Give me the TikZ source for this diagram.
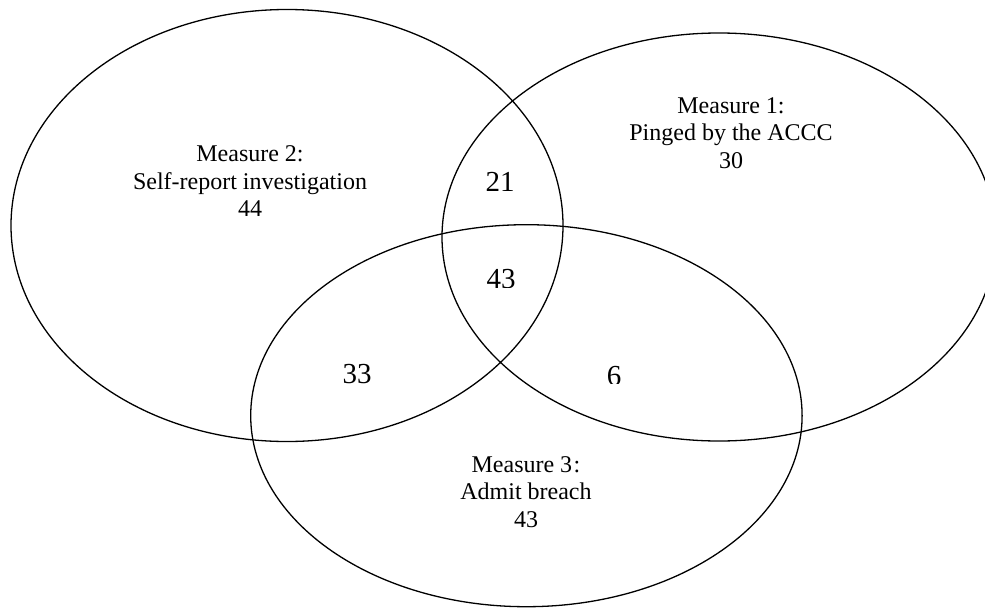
\documentclass[tikz,border=0pt]{standalone}
\usepackage{fontspec}
\setmainfont{Liberation Serif}
\begin{document}
\begin{tikzpicture}[x=1pt,y=-1pt,
  setline/.style={line width=1.3pt},
  setlabel/.style={align=center,inner sep=0pt,font=\fontsize{24}{27.5}\selectfont},
  countlabel/.style={inner sep=0pt,font=\fontsize{29}{33}\selectfont}]
\useasboundingbox (0,0) rectangle (985,608);
\clip (0,0) rectangle (985,608);
% sets
\draw[setline] (287,225.5) ellipse [x radius=276, y radius=216];
\draw[setline] (719,237) ellipse [x radius=277, y radius=204];
\draw[setline] (526.4,415.7) ellipse [x radius=275.7, y radius=191];
% set labels
\node[setlabel] (m2) at (250,181.5) {Measure 2:\\Self-report investigation\\44};
\node[setlabel] (m1) at (731,133) {Measure 1:\\Pinged by the ACCC\\30};
\node[setlabel] (m3) at (526,492) {Measure 3\kern1.5pt:\\Admit breach\\43};
% intersection counts
\node[countlabel] (c21) at (500,182) {21};
\node[countlabel] (c33) at (357,374.5) {33};
\begin{scope}
  \clip (440,250) rectangle (560,287.3);
  \node[countlabel] (c43) at (501,279) {43};
\end{scope}
\begin{scope}
  \clip (580,350) rectangle (650,383.3);
  \node[countlabel] (c6) at (614,376.5) {6};
\end{scope}
\end{tikzpicture}
\end{document}
